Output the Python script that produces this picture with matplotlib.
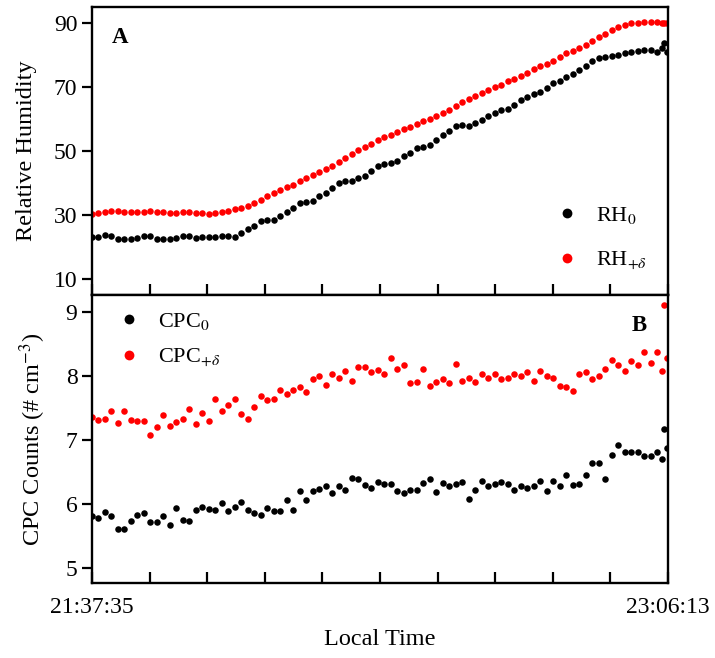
import numpy as np
import matplotlib
matplotlib.use("Agg")
import matplotlib.pyplot as plt

plt.rcParams['font.family'] = ['Liberation Serif', 'DejaVu Serif']
plt.rcParams['mathtext.fontset'] = 'stix'

# ---- data ----
start_label = "21:37:35"
end_label = "23:06:13"
span_minutes = 88 + 38 / 60.0

# sample times (minutes after start): one per minute, with a few crowded samples at the end
t_regular = list(range(88))
t_tail = [87.7, 88.05, 88.5]
time_min = np.array(t_regular + t_tail, dtype=float)

rh0 = [23.1, 23.1, 23.6, 23.3, 22.5, 22.5, 22.5, 22.8, 23.5, 23.3,
       22.5, 22.5, 22.5, 22.7, 23.5, 23.5, 22.9, 23.0, 23.0, 23.0,
       23.5, 23.5, 23.2, 24.4, 25.6, 26.6, 28.0, 28.5, 28.3, 29.6,
       31.0, 32.2, 33.7, 34.2, 34.4, 35.8, 37.0, 38.4, 40.0, 40.7,
       40.5, 41.5, 42.2, 43.6, 45.2,
       45.9, 46.2, 47.0, 48.3, 49.3, 50.9, 51.4, 51.9, 53.3, 55.0,
       56.4, 57.8, 58.2, 57.8, 58.9, 59.7, 60.8, 62.0, 62.8, 63.2,
       64.5, 66.0, 67.0, 67.8, 68.5, 69.6, 71.2, 72.0, 73.0, 74.1,
       75.3, 76.7, 78.2, 79.0, 79.5, 79.7, 80.1, 80.5, 80.9, 81.3,
       81.6, 81.6, 81.0,
       82.2, 83.8, 80.8]

rh_delta = [30.3, 30.6, 30.9, 31.2, 31.2, 31.0, 30.9, 30.9, 31.0, 31.1,
            30.9, 30.8, 30.7, 30.7, 30.8, 30.8, 30.6, 30.5, 30.4, 30.6,
            31.0, 31.4, 31.8, 32.2, 32.8, 33.6, 34.8, 36.0, 36.8, 37.7,
            38.6, 39.3, 40.5, 41.7, 42.6, 43.3, 44.3, 45.4, 46.5, 47.9,
            49.1, 50.4, 51.2, 52.2, 53.3,
            54.5, 55.1, 56.0, 56.8, 57.6, 58.5, 59.3, 60.1, 61.0, 62.0,
            62.8, 64.1, 65.3, 66.2, 67.2, 68.0, 69.1, 69.9, 70.7, 71.8,
            72.6, 73.4, 74.5, 75.5, 76.6, 77.2, 78.2, 79.3, 80.5, 81.3,
            82.2, 83.2, 84.3, 85.5, 86.5, 87.8, 88.8, 89.4, 89.9, 90.0,
            90.2, 90.3, 90.2,
            90.1, 90.1, 90.1]

cpc0 = [5.80, 5.78, 5.87, 5.80, 5.61, 5.60, 5.73, 5.83, 5.85, 5.72,
        5.72, 5.81, 5.66, 5.93, 5.75, 5.73, 5.90, 5.95, 5.91, 5.90,
        6.01, 5.89, 5.95,
        6.02, 5.90, 5.86, 5.82, 5.93, 5.89, 5.88, 6.05, 5.90, 6.20,
        6.06, 6.20, 6.23, 6.28, 6.17, 6.28, 6.21, 6.40, 6.38, 6.29,
        6.24, 6.34,
        6.31, 6.31, 6.20, 6.17, 6.21, 6.21, 6.33, 6.38, 6.18, 6.33,
        6.28, 6.31, 6.34, 6.08, 6.21, 6.36, 6.28, 6.31, 6.34, 6.30,
        6.21, 6.28,
        6.24, 6.27, 6.36, 6.19, 6.36, 6.28, 6.44, 6.29, 6.31, 6.45,
        6.63, 6.63, 6.38, 6.76, 6.92, 6.80, 6.80, 6.80, 6.75, 6.74,
        6.80,
        6.69, 7.16, 6.87]

cpc_delta = [7.35, 7.31, 7.32, 7.45, 7.26, 7.44, 7.31, 7.29, 7.29, 7.08,
             7.20, 7.38, 7.21, 7.28, 7.32, 7.48, 7.24, 7.42, 7.29, 7.63,
             7.45, 7.54, 7.63,
             7.40, 7.33, 7.51, 7.68, 7.62, 7.63, 7.78, 7.71, 7.77, 7.82,
             7.74, 7.94, 7.99, 7.85, 8.03, 7.97, 8.07, 7.92, 8.13, 8.13,
             8.05, 8.09,
             8.03, 8.27, 8.10, 8.17, 7.88, 7.90, 8.11, 7.84, 7.90, 7.94,
             7.89, 8.18, 7.92, 7.97, 7.90, 8.03, 7.97, 8.02, 7.95, 7.96,
             8.03, 8.00,
             8.05, 7.91, 8.07, 7.99, 7.96, 7.84, 7.83, 7.76, 8.02, 8.05,
             7.94, 8.00, 8.11, 8.24, 8.17, 8.08, 8.23, 8.16, 8.37, 8.19,
             8.37,
             8.07, 9.10, 8.27]

rh_ticks = [10, 30, 50, 70, 90]
cpc_ticks = [5, 6, 7, 8, 9]

# ---- figure ----
W, H = 715, 658
fig = plt.figure(figsize=(W / 100, H / 100), dpi=100)
left = 92 / W
width = 576 / W
ph = 288 / H
ax1 = fig.add_axes([left, 1 - 295 / H, width, ph])
ax2 = fig.add_axes([left, 1 - 583 / H, width, ph])

ms = 4.7
ax1.plot(time_min, rh0, 'o', color='black', ms=ms, mec='none', label=r'RH$_0$')
ax1.plot(time_min, rh_delta, 'o', color='#ff0000', ms=ms, mec='none', label=r'RH$_{+\delta}$')
ax2.plot(time_min, cpc0, 'o', color='black', ms=ms, mec='none', label=r'CPC$_0$')
ax2.plot(time_min, cpc_delta, 'o', color='#ff0000', ms=ms, mec='none', label=r'CPC$_{+\delta}$')

xt = np.linspace(0, span_minutes, 11)
xl = [start_label] + [''] * 9 + [end_label]
for ax in (ax1, ax2):
    ax.set_xlim(0, span_minutes)
    ax.set_xticks(xt)
    for s in ax.spines.values():
        s.set_linewidth(1.7)
    ax.tick_params(axis='x', direction='in', length=8, width=1.6, top=False)
    ax.tick_params(axis='y', direction='out', length=7.5, width=1.6, right=False,
                   labelsize=17, pad=3)

ax1.set_xticklabels([''] * 11)
ax2.set_xticklabels(xl, fontsize=17)
ax2.tick_params(axis='x', pad=10)

ax1.set_ylim(5, 95)
ax1.set_yticks(rh_ticks)
ax2.set_ylim(4.76, 9.26)
ax2.set_yticks(cpc_ticks)

ax1.set_ylabel('Relative Humidity', fontsize=17.5)
ax1.yaxis.set_label_coords(-0.095, 0.5)
ax2.set_ylabel(r'CPC Counts (# cm$^{-3}$)', fontsize=17.5)
ax2.yaxis.set_label_coords(-0.076, 0.5)
ax2.set_xlabel('Local Time', fontsize=17.5, labelpad=8)

ax1.text(0.049, 0.894, 'A', transform=ax1.transAxes, fontsize=16.5,
         fontweight='bold', ha='center', va='center')
ax2.text(0.95, 0.894, 'B', transform=ax2.transAxes, fontsize=16.5,
         fontweight='bold', ha='center', va='center')

ax1.legend(loc='upper left', bbox_to_anchor=(0.79, 0.343), frameon=False,
           fontsize=16, markerscale=1.5, handlelength=1.0, handletextpad=0.8,
           labelspacing=1.05, borderaxespad=0)
ax2.legend(loc='upper left', bbox_to_anchor=(0.03, 0.975), frameon=False,
           fontsize=16, markerscale=1.5, handlelength=1.0, handletextpad=0.8,
           labelspacing=0.65, borderaxespad=0)

fig.savefig('out.png', dpi=100)
